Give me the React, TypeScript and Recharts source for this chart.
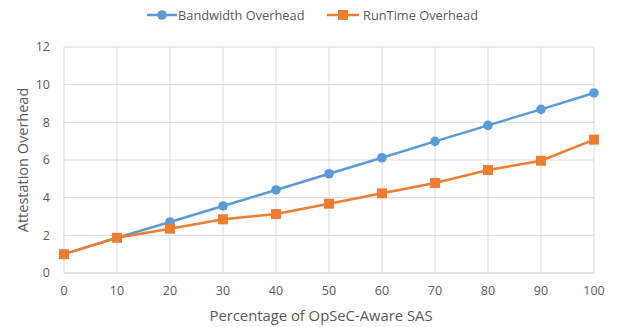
import React from "react";
import { LineChart, Line, XAxis, YAxis, CartesianGrid, Label } from "recharts";

const percentages = [0, 10, 20, 30, 40, 50, 60, 70, 80, 90, 100];
const bandwidthOverhead = [1.0, 1.87, 2.71, 3.56, 4.41, 5.27, 6.12, 6.99, 7.84, 8.69, 9.56];
const runtimeOverhead = [1.0, 1.87, 2.35, 2.85, 3.13, 3.68, 4.23, 4.78, 5.47, 5.96, 7.08];
const xTicks = [0, 10, 20, 30, 40, 50, 60, 70, 80, 90, 100];
const yTicks = [0, 2, 4, 6, 8, 10, 12];

const data = percentages.map((p, i) => ({ p, bw: bandwidthOverhead[i], rt: runtimeOverhead[i] }));

const BLUE = "#5b9bd5";
const ORANGE = "#ed7d31";
const TEXT = "#595959";
const GRID = "#d9d9d9";
const FONT = "'Open Sans', sans-serif";

const SquareDot = (props: any) => {
  const { cx, cy } = props;
  if (cx == null || cy == null) return null;
  return <rect x={cx - 5} y={cy - 5} width={10} height={10} fill={ORANGE} />;
};

const legendText: React.CSSProperties = {
  position: "absolute",
  top: 15,
  transform: "translateY(-50%)",
  fontFamily: FONT,
  fontSize: 12.8,
  color: TEXT,
  whiteSpace: "nowrap",
  lineHeight: "16px",
};

const LegendBox = () => (
  <>
    <svg width={30} height={12} style={{ position: "absolute", left: 147, top: 9 }}>
      <line x1={0} y1={6} x2={30} y2={6} stroke={BLUE} strokeWidth={2.5} />
      <circle cx={15} cy={6} r={4.8} fill={BLUE} />
    </svg>
    <span style={{ ...legendText, left: 178 }}>Bandwidth Overhead</span>
    <svg width={32} height={12} style={{ position: "absolute", left: 327, top: 9 }}>
      <line x1={0} y1={6} x2={32} y2={6} stroke={ORANGE} strokeWidth={2.5} />
      <rect x={11} y={1} width={10} height={10} fill={ORANGE} />
    </svg>
    <span style={{ ...legendText, left: 363 }}>RunTime Overhead</span>
  </>
);

export default function App() {
  return (
    <div style={{ position: "absolute", left: 0, top: 0, width: 618, height: 327, background: "#fff" }}>
      <LineChart width={618} height={327} data={data} margin={{ top: 47, right: 24, bottom: 0, left: 0 }}>
        <CartesianGrid stroke={GRID} strokeWidth={1} />
        <XAxis
          dataKey="p"
          type="number"
          domain={[0, 100]}
          ticks={xTicks}
          interval={0}
          height={54}
          tickLine={false}
          tickMargin={7}
          axisLine={{ stroke: GRID }}
          tick={{ fill: TEXT, fontSize: 12.5, fontFamily: FONT }}
        >
          <Label
            content={(props: any) => {
              const vb = props.viewBox;
              return (
                <text x={vb.x + vb.width / 2 - 8} y={vb.y + 42} textAnchor="middle" dominantBaseline="central" fill={TEXT} fontSize={14.8} fontFamily={FONT}>
                  Percentage of OpSeC-Aware SAS
                </text>
              );
            }}
          />
        </XAxis>
        <YAxis
          type="number"
          domain={[0, 12]}
          ticks={yTicks}
          interval={0}
          width={64}
          tickLine={false}
          axisLine={false}
          tickMargin={8}
          tick={{ fill: TEXT, fontSize: 12.5, fontFamily: FONT }}
        >
          <Label
            content={(props: any) => {
              const vb = props.viewBox;
              const x = vb.x + 22;
              const y = vb.y + vb.height / 2;
              return (
                <text x={x} y={y} transform={`rotate(-90, ${x}, ${y})`} textAnchor="middle" dominantBaseline="central" fill={TEXT} fontSize={14.5} fontFamily={FONT}>
                  Attestation Overhead
                </text>
              );
            }}
          />
        </YAxis>
        <Line type="linear" dataKey="bw" name="Bandwidth Overhead" stroke={BLUE} strokeWidth={2.5} dot={{ r: 4.8, fill: BLUE, stroke: BLUE, strokeWidth: 0 }} activeDot={false} isAnimationActive={false} />
        <Line type="linear" dataKey="rt" name="RunTime Overhead" stroke={ORANGE} strokeWidth={2.5} dot={<SquareDot />} activeDot={false} isAnimationActive={false} />
      </LineChart>
      <LegendBox />
    </div>
  );
}
